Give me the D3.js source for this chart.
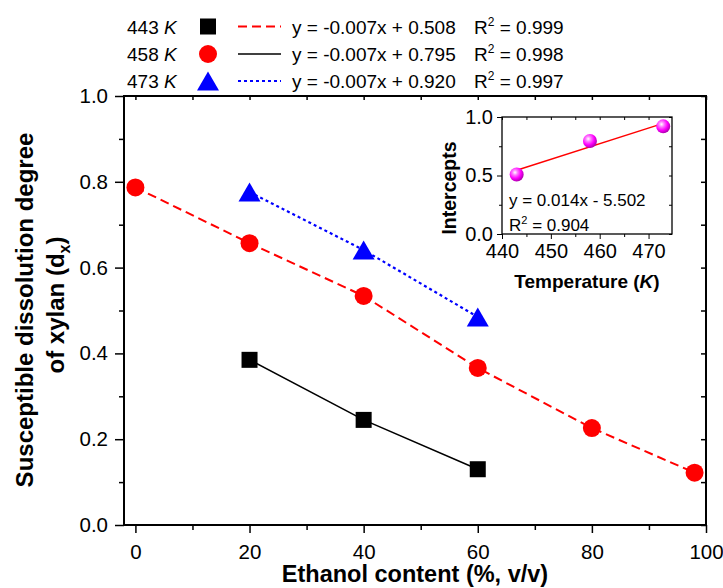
<!DOCTYPE html>
<html>
<head>
<meta charset="utf-8">
<script src="https://cdn.jsdelivr.net/npm/d3@7/dist/d3.min.js"></script>
<style>
  body { margin: 0; background: #fff; }
  svg { display: block; font-family: "Liberation Sans", Arial, sans-serif; }
</style>
</head>
<body>
<div id="chart"></div>
<script>
// ---- data ----
const ethanol443 = [20, 40, 60];
const dx443 = [0.385, 0.245, 0.130];
const ethanol458 = [0, 20, 40, 60, 80, 98];
const dx458 = [0.787, 0.657, 0.534, 0.366, 0.226, 0.122];
const ethanol473 = [20, 40, 60];
const dx473 = [0.776, 0.641, 0.485];

const xTicks = [0, 20, 40, 60, 80, 100];
const xMinor = [10, 30, 50, 70, 90];
const yTicks = [0, 0.2, 0.4, 0.6, 0.8, 1.0];
const yMinor = [0.1, 0.3, 0.5, 0.7, 0.9];

const legendTemps = ["443", "458", "473"];
const legendEqs = ["y = -0.007x + 0.508", "y = -0.007x + 0.795", "y = -0.007x + 0.920"];
const legendR2 = ["0.999", "0.998", "0.997"];

// inset: intercepts vs temperature
const temps = [443, 458, 473];
const intercepts = [0.508, 0.795, 0.920];
const fitTemps = [443, 473];
const fitIntercepts = [0.545, 0.945];
const insetXTicks = [440, 450, 460, 470];
const insetXMinor = [445, 455, 465];
const insetYTicks = [0, 0.5, 1.0];
const insetYMinor = [0.25, 0.75];

// ---- layout ----
const W = 723, H = 588;
const plot = {left: 124, right: 706, top: 96, bottom: 525};
const inset = {left: 502, right: 672, top: 117, bottom: 234};

const svg = d3.select("#chart").append("svg")
    .attr("width", W)
    .attr("height", H);

const defs = svg.append("defs");
const grad = defs.append("radialGradient")
    .attr("id", "ball")
    .attr("cx", "38%").attr("cy", "35%").attr("r", "65%");
grad.append("stop").attr("offset", "0%").attr("stop-color", "#ffffff");
grad.append("stop").attr("offset", "30%").attr("stop-color", "#ff77ff");
grad.append("stop").attr("offset", "65%").attr("stop-color", "#ff00ff");
grad.append("stop").attr("offset", "100%").attr("stop-color", "#b000b0");

const x = d3.scaleLinear().domain([-2, 100]).range([plot.left, plot.right]);
const y = d3.scaleLinear().domain([0, 1]).range([plot.bottom, plot.top]);

function styleAxis(g, fontSize) {
  g.select(".domain").remove();
  g.selectAll(".tick line").attr("stroke", "#000").attr("stroke-width", 1.5);
  g.selectAll(".tick text")
      .attr("fill", "#000")
      .style("font-size", fontSize + "px")
      .style("font-family", "'Liberation Sans', Arial, sans-serif");
}

// main axes
svg.append("g")
    .attr("transform", `translate(${plot.left},0)`)
    .call(d3.axisLeft(y).tickValues(yTicks).tickSize(9).tickPadding(7)
      .tickSizeOuter(0).tickFormat(d3.format(".1f")))
    .call(g => styleAxis(g, 20.5));
svg.append("g")
    .attr("transform", `translate(${plot.left},0)`)
    .call(d3.axisLeft(y).tickValues(yMinor).tickSize(5).tickFormat(""))
    .call(g => styleAxis(g, 20));
svg.append("g")
    .attr("transform", `translate(${plot.right},0)`)
    .call(d3.axisLeft(y).tickValues(yTicks.concat(yMinor)).tickSize(5).tickFormat(""))
    .call(g => styleAxis(g, 20));

svg.append("g")
    .attr("transform", `translate(0,${plot.bottom})`)
    .call(d3.axisBottom(x).tickValues(xTicks).tickSize(8).tickPadding(11)
      .tickSizeOuter(0).tickFormat(d3.format("d")))
    .call(g => styleAxis(g, 20.5));
svg.append("g")
    .attr("transform", `translate(0,${plot.bottom})`)
    .call(d3.axisBottom(x).tickValues(xMinor).tickSize(5).tickFormat(""))
    .call(g => styleAxis(g, 20));
svg.append("g")
    .attr("transform", `translate(0,${plot.top})`)
    .call(d3.axisBottom(x).tickValues(xTicks.concat(xMinor)).tickSize(4).tickFormat(""))
    .call(g => styleAxis(g, 20));

svg.append("rect")
    .attr("x", plot.left).attr("y", plot.top)
    .attr("width", plot.right - plot.left)
    .attr("height", plot.bottom - plot.top)
    .attr("fill", "none")
    .attr("stroke", "#000")
    .attr("stroke-width", 2);

// axis titles
svg.append("text")
    .attr("x", (plot.left + plot.right) / 2)
    .attr("y", 582)
    .attr("text-anchor", "middle")
    .style("font-size", "23.5px")
    .style("font-weight", "bold")
    .text("Ethanol content (%, v/v)");

svg.append("text")
    .attr("transform", "translate(33,310) rotate(-90)")
    .attr("text-anchor", "middle")
    .style("font-size", "24px")
    .style("font-weight", "bold")
    .text("Susceptible dissolution degree");

let yt2 = svg.append("text")
    .attr("transform", "translate(64,305) rotate(-90)")
    .attr("text-anchor", "middle")
    .style("font-size", "24px")
    .style("font-weight", "bold");
yt2.append("tspan").text("of xylan (d");
yt2.append("tspan").attr("dy", 6).style("font-size", "16px").text("x");
yt2.append("tspan").attr("dy", -6).text(")");

// series lines
const line = (xs, ys) => d3.line()
    .x(i => x(xs[i]))
    .y(i => y(ys[i]))(d3.range(xs.length));

svg.append("path")
    .attr("d", line(ethanol443, dx443))
    .attr("fill", "none").attr("stroke", "#000").attr("stroke-width", 1.6);
svg.append("path")
    .attr("d", line(ethanol458, dx458))
    .attr("fill", "none").attr("stroke", "#ff0000").attr("stroke-width", 2)
    .attr("stroke-dasharray", "9,5");
svg.append("path")
    .attr("d", line(ethanol473, dx473))
    .attr("fill", "none").attr("stroke", "#0000ff").attr("stroke-width", 2.2)
    .attr("stroke-dasharray", "3,3");

// markers
function trianglePath(cx, cy) {
  const w = 22, h = 19;
  return `M${cx},${cy - h / 2}L${cx + w / 2},${cy + h / 2}L${cx - w / 2},${cy + h / 2}Z`;
}

svg.selectAll(".sq")
    .data(d3.range(ethanol443.length))
  .enter().append("rect")
    .attr("class", "sq")
    .attr("x", i => x(ethanol443[i]) - 8)
    .attr("y", i => y(dx443[i]) - 8)
    .attr("width", 16).attr("height", 16)
    .attr("fill", "#000");

svg.selectAll(".ci")
    .data(d3.range(ethanol458.length))
  .enter().append("circle")
    .attr("class", "ci")
    .attr("cx", i => x(ethanol458[i]))
    .attr("cy", i => y(dx458[i]))
    .attr("r", 9)
    .attr("fill", "#ff0000");

svg.selectAll(".tri")
    .data(d3.range(ethanol473.length))
  .enter().append("path")
    .attr("class", "tri")
    .attr("d", i => trianglePath(x(ethanol473[i]), y(dx473[i])))
    .attr("fill", "#0000ff");

// legend
const rowY = [26.5, 54, 81];
const keyDash = ["9,5", null, "3,3"];
const keyColor = ["#ff0000", "#000", "#0000ff"];
legendTemps.forEach((t, i) => {
  const cy = rowY[i];
  const lab = svg.append("text")
      .attr("x", 127).attr("y", cy + 7)
      .style("font-size", "19px");
  lab.append("tspan").text(t + " ");
  lab.append("tspan").style("font-style", "italic").text("K");

  if (i === 0) {
    svg.append("rect").attr("x", 200).attr("y", cy - 8)
        .attr("width", 16).attr("height", 16).attr("fill", "#000");
  } else if (i === 1) {
    svg.append("circle").attr("cx", 208).attr("cy", cy).attr("r", 9).attr("fill", "#ff0000");
  } else {
    svg.append("path").attr("d", trianglePath(208, cy)).attr("fill", "#0000ff");
  }

  const key = svg.append("line")
      .attr("x1", 238).attr("x2", 281)
      .attr("y1", cy).attr("y2", cy)
      .attr("stroke", keyColor[i])
      .attr("stroke-width", i === 1 ? 1.6 : 2);
  if (keyDash[i]) key.attr("stroke-dasharray", keyDash[i]);

  svg.append("text")
      .attr("x", 292).attr("y", cy + 7)
      .style("font-size", "19px")
      .text(legendEqs[i]);

  const r2 = svg.append("text")
      .attr("x", 474).attr("y", cy + 7)
      .style("font-size", "19px");
  r2.append("tspan").text("R");
  r2.append("tspan").attr("dy", -8).style("font-size", "12px").text("2");
  r2.append("tspan").attr("dy", 8).text(" = " + legendR2[i]);
});

// ---- inset ----
const ix = d3.scaleLinear().domain([440, 474.8]).range([inset.left, inset.right]);
const iy = d3.scaleLinear().domain([0, 1]).range([inset.bottom, inset.top]);

const ig = svg.append("g");
ig.append("g")
    .attr("transform", `translate(${inset.left},0)`)
    .call(d3.axisLeft(iy).tickValues(insetYTicks).tickSize(5).tickPadding(4)
      .tickFormat(d3.format(".1f")))
    .call(g => styleAxis(g, 20));
ig.append("g")
    .attr("transform", `translate(${inset.left},0)`)
    .call(d3.axisLeft(iy).tickValues(insetYMinor).tickSize(3).tickFormat(""))
    .call(g => styleAxis(g, 20));
ig.append("g")
    .attr("transform", `translate(${inset.right},0)`)
    .call(d3.axisLeft(iy).tickValues(insetYTicks.concat(insetYMinor)).tickSize(3).tickFormat(""))
    .call(g => styleAxis(g, 20));
ig.append("g")
    .attr("transform", `translate(0,${inset.bottom})`)
    .call(d3.axisBottom(ix).tickValues(insetXTicks).tickSize(5).tickPadding(5)
      .tickFormat(d3.format("d")))
    .call(g => styleAxis(g, 20));
ig.append("g")
    .attr("transform", `translate(0,${inset.bottom})`)
    .call(d3.axisBottom(ix).tickValues(insetXMinor).tickSize(3).tickFormat(""))
    .call(g => styleAxis(g, 20));
ig.append("g")
    .attr("transform", `translate(0,${inset.top})`)
    .call(d3.axisBottom(ix).tickValues(insetXTicks.concat(insetXMinor)).tickSize(3).tickFormat(""))
    .call(g => styleAxis(g, 20));
ig.selectAll(".tick line").attr("stroke-width", 1);

ig.append("rect")
    .attr("x", inset.left).attr("y", inset.top)
    .attr("width", inset.right - inset.left)
    .attr("height", inset.bottom - inset.top)
    .attr("fill", "none")
    .attr("stroke", "#000")
    .attr("stroke-width", 1.3);

ig.append("path")
    .attr("d", d3.line().x(i => ix(fitTemps[i])).y(i => iy(fitIntercepts[i]))(d3.range(fitTemps.length)))
    .attr("fill", "none")
    .attr("stroke", "#ff0000")
    .attr("stroke-width", 1.4);

ig.selectAll(".ball")
    .data(d3.range(temps.length))
  .enter().append("circle")
    .attr("class", "ball")
    .attr("cx", i => ix(temps[i]))
    .attr("cy", i => iy(intercepts[i]))
    .attr("r", 7)
    .attr("fill", "url(#ball)");

ig.append("text")
    .attr("x", 509).attr("y", 206)
    .style("font-size", "17px")
    .text("y = 0.014x - 5.502");
const ir2 = ig.append("text")
    .attr("x", 509).attr("y", 231)
    .style("font-size", "17px");
ir2.append("tspan").text("R");
ir2.append("tspan").attr("dy", -7).style("font-size", "11px").text("2");
ir2.append("tspan").attr("dy", 7).text(" = 0.904");

ig.append("text")
    .attr("transform", "translate(456,188) rotate(-90)")
    .attr("text-anchor", "middle")
    .style("font-size", "19.5px")
    .style("font-weight", "bold")
    .text("Intercepts");

const itx = ig.append("text")
    .attr("x", (inset.left + inset.right) / 2)
    .attr("y", 288)
    .attr("text-anchor", "middle")
    .style("font-size", "19px")
    .style("font-weight", "bold");
itx.append("tspan").text("Temperature (");
itx.append("tspan").style("font-style", "italic").text("K");
itx.append("tspan").text(")");
</script>
</body>
</html>
